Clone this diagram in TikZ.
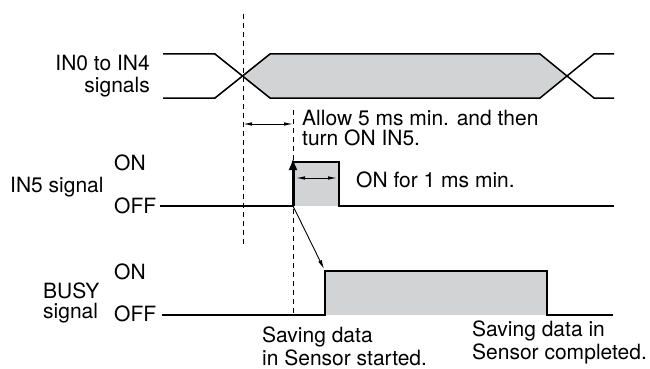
\documentclass[tikz,border=0pt]{standalone}
\usepackage{fontspec}
\setmainfont{TeX Gyre Heros}
\usetikzlibrary{arrows.meta}
\definecolor{pulsegray}{HTML}{D1D3D4}
\tikzset{
  lbl/.style={inner sep=0pt, font=\fontsize{21}{22}\selectfont, align=left},
  sig/.style={line width=1.5pt, line join=miter},
  guide/.style={line width=0.9pt, dash pattern=on 5pt off 4pt},
  dim/.style={line width=0.9pt, {Latex[length=9pt,width=3.5pt]}-{Latex[length=9pt,width=3.5pt]}},
  pulsefill/.style={fill=pulsegray}
}
\begin{document}
\begin{tikzpicture}[x=1pt,y=-1pt]
\useasboundingbox (0,0) rectangle (650,369);
% ---------- coordinates ----------
\coordinate (dA1) at (243,14);
\coordinate (dA2) at (243,245);
\coordinate (dB1) at (293,110);
\coordinate (dB2) at (293,315);
\coordinate (mA) at (243,124);
\coordinate (mB) at (293,124);
\coordinate (inOff) at (293,206);
\coordinate (inTop) at (293,158);
\coordinate (pA) at (296,178);
\coordinate (pB) at (337,178);
\coordinate (busyTip) at (324,269);
% ---------- IN0 to IN4 ----------
\fill[pulsegray] (243,76) -- (270,54) -- (540,54) -- (567,76) -- (540,98) -- (270,98) -- cycle;
\draw[sig] (163,54) -- (215,54) -- (270,98) -- (540,98) -- (594,54) -- (614,54);
\draw[sig] (163,98) -- (215,98) -- (270,54) -- (540,54) -- (594,98) -- (614,98);
% ---------- guides ----------
\draw[guide] (dA1) -- (dA2);
\draw[guide] (dB1) -- (dB2);
\draw[dim] (mA) -- (mB);
% ---------- IN5 ----------
\fill[pulsegray] (293,162) rectangle (339,206);
\draw[sig] (160,206) -- (293,206) -- (293,162) -- (339,162) -- (339,206) -- (614,206);
\draw[line width=3pt, -{Latex[length=12pt,width=9pt]}] (inOff) -- (inTop);
\draw[dim] (pA) -- (pB);
% ---------- BUSY ----------
\fill[pulsegray] (325,271) rectangle (547,315);
\draw[sig] (162,315) -- (325,315) -- (325,271) -- (547,271) -- (547,315) -- (613,315);
\draw[line width=0.9pt, -{Latex[length=9pt,width=4pt]}] (inOff) -- (busyTip);
% ---------- labels ----------
\node[lbl, anchor=east, align=right] (lIN04) at (150,76) {IN0 to IN4\\signals};
\node[lbl, anchor=west, font=\fontsize{21}{20}\selectfont] (lAllow) at (302,128) {Allow 5 ms min. and then\\turn ON IN5.};
\node[lbl, anchor=west] (lIN5) at (10,187) {IN5 signal};
\node[lbl, anchor=west] (lON1) at (114,163) {ON};
\node[lbl, anchor=west] (lOFF1) at (114,206) {OFF};
\node[lbl, anchor=west] (lOn1ms) at (356,180) {ON for 1 ms min.};
\node[lbl, anchor=west] (lON2) at (114,272) {ON};
\node[lbl, anchor=west, font=\fontsize{21}{20}\selectfont] (lBUSY) at (43,303) {BUSY\\signal};
\node[lbl, anchor=west] (lOFF2) at (114,314) {OFF};
\node[lbl, anchor=west, font=\fontsize{21}{23}\selectfont] (lStart) at (262,346) {Saving data\\in Sensor started.};
\node[lbl, anchor=west, font=\fontsize{21}{23}\selectfont] (lDone) at (472,342) {Saving data in\\Sensor completed.};
\end{tikzpicture}
\end{document}
